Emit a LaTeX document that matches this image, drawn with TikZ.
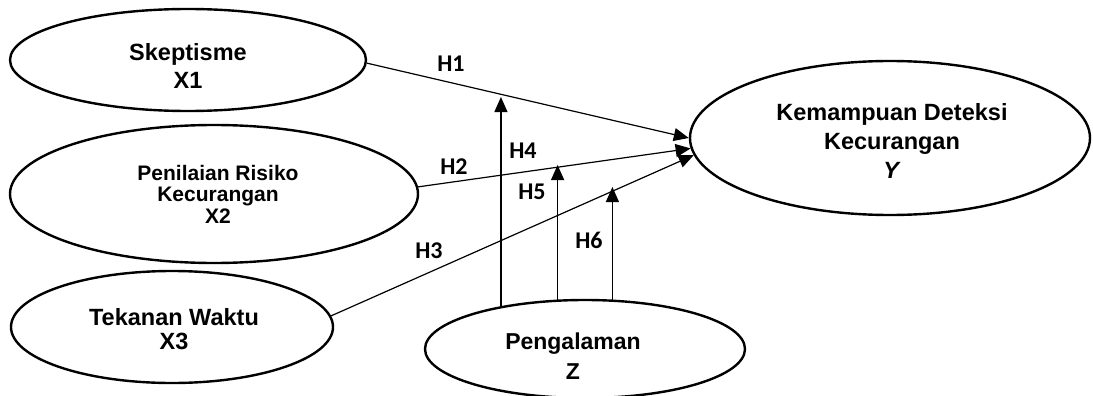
\documentclass[tikz,border=0pt]{standalone}
\usepackage{fontspec}
\setmainfont{Liberation Sans}
\newfontfamily\hfont{Carlito}
\usetikzlibrary{arrows.meta,shapes.geometric}
\begin{document}
\begin{tikzpicture}[x=1pt,y=-1pt,
  ell/.style={draw, ellipse, line width=2.4pt, inner sep=0pt},
  lbl/.style={align=center, inner sep=0pt},
  hyp/.style={font=\hfont\fontsize{24}{28}\selectfont\bfseries, inner sep=0pt},
  arr/.style={line width=1.2pt, -{Triangle[length=15pt,width=13pt]}}]
\useasboundingbox (0,0) rectangle (1093,396);
\clip (0,0) rectangle (1093,396);
% ellipses
\node[ell, minimum width=356, minimum height=102] (x1) at (188,60) {};
\node[ell, minimum width=408, minimum height=138] (x2) at (214,194) {};
\node[ell, minimum width=322, minimum height=112] (x3) at (172,327) {};
\node[ell, minimum width=320, minimum height=98] (z) at (585,349) {};
\node[ell, minimum width=400, minimum height=154] (y) at (890,138) {};
% texts
\node[lbl, font=\fontsize{23.5}{28}\selectfont\bfseries] (x1t) at (188,66) {Skeptisme\\X1};
\node[lbl, font=\fontsize{21}{21.5}\selectfont\bfseries] (x2t) at (218,194) {Penilaian Risiko\\Kecurangan\\X2};
\node[lbl, font=\fontsize{23.5}{23.5}\selectfont\bfseries] (x3t) at (174,329) {Tekanan Waktu\\X3};
\node[lbl, font=\fontsize{23}{30}\selectfont\bfseries] (zt) at (573,356) {Pengalaman\\Z};
\node[lbl, font=\fontsize{23.5}{29}\selectfont\bfseries] (yt) at (892,141) {Kemampuan Deteksi\\Kecurangan\\\textit{Y}};
% arrows
\draw[arr] (x1.-1) -- (y.180);
\draw[arr] (x2.2) -- (y.183);
\draw[arr] (x3.4) -- (y.185);
\coordinate (h4tip) at (500,97);
\coordinate (h5tip) at (557,165);
\coordinate (h6tip) at (612,187);
\draw[arr] (z.153.7) -- (z.153.7 |- h4tip);
\draw[arr] (z.119.7) -- (z.119.7 |- h5tip);
\draw[arr] (z.61.1) -- (z.61.1 |- h6tip);
% labels
\node[hyp] (h1) at (451,64) {H1};
\node[hyp] (h2) at (454,167) {H2};
\node[hyp] (h3) at (429,251) {H3};
\node[hyp] (h4) at (523,151) {H4};
\node[hyp] (h5) at (532,192) {H5};
\node[hyp] (h6) at (589,240) {H6};
\end{tikzpicture}
\end{document}
